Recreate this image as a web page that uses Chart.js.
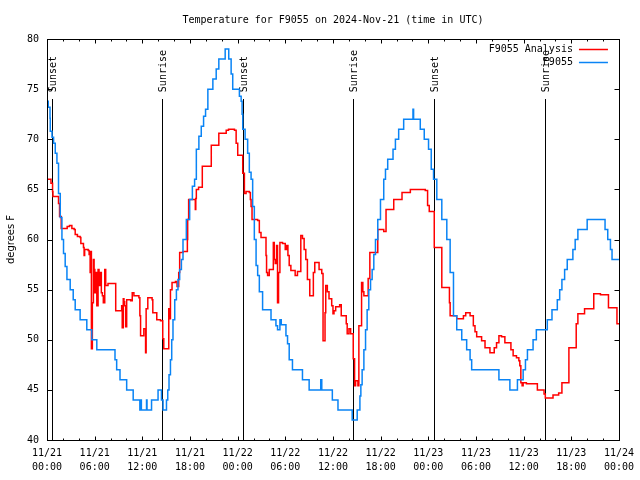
<!DOCTYPE html>
<html>
<head>
<meta charset="utf-8">
<script src="https://cdn.jsdelivr.net/npm/chart.js@4.4.1/dist/chart.umd.min.js"></script>
<style>
  body { margin: 0; background: #fff; }
</style>
</head>
<body>
<canvas id="Chart" width="640" height="480"></canvas>
<script>
// Hours since 11/21 00:00 UTC, with the temperature (F) that starts at that hour
var stationHours = [
  0, 0.16, 0.38, 0.41, 0.63, 0.83, 1.04, 1.25, 1.45, 1.67,
  1.88, 2.08, 2.29, 2.51, 2.92, 3.30, 3.55, 4.17, 5.01, 5.64,
  6.27, 8.56, 8.77, 9.19, 10.03, 10.85, 11.69, 11.82, 11.88, 12.53,
  12.59, 13.16, 13.98, 14.41, 14.61, 15.04, 15.2, 15.36, 15.54, 15.70,
  15.86, 16.08, 16.29, 16.49, 16.70, 16.92, 17.12, 17.54, 17.96, 18.30,
  18.58, 18.80, 19.12, 19.42, 19.71, 19.96, 20.25, 20.88, 21.30, 21.63,
  22.43, 22.88, 23.18, 23.38, 24.22, 24.44, 24.56, 24.64, 24.94, 25.26,
  25.47, 25.69, 25.89, 26.1, 26.32, 26.52, 26.73, 27.14, 28.2, 28.82,
  29.02, 29.32, 29.49, 30.08, 30.28, 30.49, 30.9, 32.16, 33.0, 34.46,
  34.59, 35.92, 36.63, 38.42, 39.05, 39.39, 39.51, 39.67, 39.89, 40.1,
  40.3, 40.51, 40.73, 40.93, 41.14, 41.35, 41.64, 41.98, 42.39, 42.61,
  42.89, 43.56, 43.86, 44.27, 44.9, 46.07, 46.15, 46.99, 47.49, 48.03,
  48.37, 48.66, 49.07, 49.7, 50.33, 50.75, 51.17, 51.58, 52.21, 52.83,
  53.26, 53.46, 56.89, 58.27, 59.22, 59.94, 60.23, 60.48, 61.19, 61.6,
  62.98, 63.57, 64.24, 64.54, 64.82, 65.16, 65.49, 66.2, 66.49, 66.83,
  68.0, 70.25, 70.59, 70.93, 71.13, 72
];
var stationTemps = [
  73.8, 73.2, 72.1, 70.8, 70.2, 69.6, 68.6, 67.6, 64.6, 62.2,
  60, 58.6, 57.3, 56, 55, 54, 53, 52, 51, 50,
  49, 48, 47, 46, 45, 44, 43, 44, 43, 44,
  43, 44, 45, 44, 43, 44, 45, 46.5, 48, 50,
  52, 54, 55, 56, 57, 58, 60, 62, 64, 65.3,
  66, 69, 70.3, 71.3, 72.3, 73, 75, 76, 77, 78,
  79, 78, 76.5, 75, 74.3, 73.8, 72.5, 71, 70, 68.6,
  66.7, 66, 63.3, 60, 57.4, 56.4, 54.8, 53, 52, 51.4,
  51, 52, 51.5, 50.4, 49.6, 48, 47, 46, 45, 46,
  45, 44, 43, 42, 43, 44.4, 45.5, 47, 49, 51,
  53, 55, 56, 57, 58.5, 60, 62, 64, 66, 67,
  68, 69, 70, 71, 72, 73, 72, 71, 70, 69,
  67, 66, 64, 62, 60, 56.7, 52.4, 51, 50, 49,
  48, 47, 46, 45, 46, 47, 48, 49, 50, 51,
  52, 53, 54, 55, 56, 57, 58, 59, 60, 61,
  62, 61, 60, 59, 58, 58
];

var analysisHours = [
  0, 0.5, 0.7, 0.75, 1.45, 1.58, 1.79, 2.54, 2.83, 3.13,
  3.42, 3.55, 3.83, 4.17, 4.26, 4.59, 4.67, 4.74, 5.18, 5.3,
  5.43, 5.49, 5.59, 5.71, 5.84, 5.93, 6.02, 6.14, 6.27, 6.43,
  6.55, 6.68, 6.84, 6.97, 7.09, 7.27, 7.39, 7.68, 8.65, 9.4,
  9.47, 9.6, 9.69, 9.77, 9.9, 10.03, 10.53, 10.73, 10.94, 11.57,
  11.69, 11.78, 12.19, 12.41, 12.48, 12.69, 13.23, 13.32, 13.82, 14.29,
  14.57, 14.7, 15.33, 15.45, 15.54, 15.74, 16.17, 16.37, 16.58, 16.7,
  17.12, 17.67, 17.71, 17.83, 18.67, 18.73, 18.8, 19.08, 19.55, 20.68,
  21.63, 22.56, 22.85, 23.6, 23.81, 24.01, 24.64, 24.85, 25.06, 25.47,
  25.6, 25.69, 25.81, 26.52, 26.73, 26.94, 27.57, 27.64, 27.77, 27.98,
  28.49, 28.61, 28.73, 28.9, 29.02, 29.15, 29.32, 29.65, 29.99, 30.15,
  30.33, 30.49, 30.7, 31.24, 31.53, 31.95, 32.16, 32.37, 32.58, 32.78,
  33.08, 33.53, 33.71, 34.25, 34.59, 34.75, 35.0, 35.09, 35.29, 35.5,
  35.84, 36.0, 36.13, 36.34, 36.84, 37.04, 37.67, 37.79, 38.01, 38.22,
  38.55, 38.72, 38.85, 39.14, 39.26, 39.6, 39.76, 39.89, 40.43, 40.64,
  41.64, 42.39, 42.68, 43.65, 44.69, 45.74, 47.62, 47.91, 48.12, 48.75,
  49.7, 50.66, 50.75, 51.58, 52.42, 52.71, 53.26, 53.67, 53.88, 54.09,
  54.71, 55.14, 55.76, 56.3, 56.59, 56.89, 57.22, 57.64, 58.4, 58.68,
  59.1, 59.4, 59.52, 59.65, 59.81, 59.94, 60.35, 61.73, 62.57, 62.73,
  63.7, 64.41, 64.82, 65.7, 66.62, 66.83, 67.67, 68.83, 69.67, 70.68,
  71.75, 72
];
var analysisTemps = [
  66, 65.6, 64.8, 64.3, 63.6, 62.3, 61.1, 61.3, 61.4, 61.1,
  61, 60.5, 60.3, 60.2, 59.6, 59.2, 58.4, 59, 58.9, 58.5,
  56.7, 58.8, 49.1, 53.7, 58, 57, 54.7, 56.7, 53.4, 57,
  55.4, 56.7, 54.7, 54.4, 53.7, 57, 55.4, 55.6, 52.9, 53.4,
  51.2, 54.1, 53.8, 53.4, 51.3, 54, 53.9, 54.7, 54.4, 54.2,
  52.4, 50.4, 51.1, 48.7, 53.1, 54.2, 54, 52.7, 52, 51.9,
  50.1, 49.1, 53.1, 52.1, 55, 55.7, 55.8, 55.3, 56.7, 58.7,
  58.8, 60, 62, 64, 63, 64.1, 65, 65.2, 67.3, 69.4,
  70.6, 70.9, 71, 70.9, 69.6, 68.4, 66.6, 64.6, 64.8, 64.7,
  64, 63.3, 62, 61.9, 60.7, 60.2, 58.4, 56.7, 56.4, 57,
  59.7, 58, 57.6, 59.4, 53.7, 56.7, 59.7, 59.6, 59, 59.4,
  58.4, 57.4, 56.9, 56.4, 56.8, 60.4, 60.1, 59, 58, 56,
  54.4, 56.7, 57.7, 57, 56.6, 49.9, 52.7, 55.4, 54.8, 54.1,
  53.4, 52.6, 52.9, 53.3, 53.5, 52.4, 51.6, 50.6, 51.1, 50.6,
  48.1, 45.4, 45.9, 45.4, 51.4, 55.7, 54.8, 54.4, 56.1, 58.7,
  61, 60.8, 63, 64, 64.7, 65, 64.9, 63.4, 62.8, 59.2,
  55.2, 53.7, 52.4, 52.1, 52.4, 52.7, 52.4, 51.4, 50.8, 50.3,
  49.9, 49.2, 48.7, 49.2, 49.7, 50.4, 50.3, 49.7, 49, 48.4,
  48.2, 47.9, 47.4, 45.7, 45.4, 45.7, 45.6, 45, 44.6, 44.2,
  44.5, 44.7, 45.7, 49.2, 51.6, 52.6, 53.1, 54.6, 54.5, 53.2,
  51.6, 51.6
];

// Sunrise / sunset markers
var eventHours = [0.58, 14.49, 24.64, 38.55, 48.70, 62.66];
var eventLabels = ['Sunset', 'Sunrise', 'Sunset', 'Sunrise', 'Sunset', 'Sunrise'];

// x tick labels, one per 6 hours
var tickDates = ['11/21', '11/21', '11/21', '11/21', '11/22', '11/22', '11/22', '11/22', '11/23', '11/23', '11/23', '11/23', '11/24'];
var tickTimes = ['00:00', '06:00', '12:00', '18:00', '00:00', '06:00', '12:00', '18:00', '00:00', '06:00', '12:00', '18:00', '00:00'];

var MONO = "'DejaVu Sans Mono', 'Liberation Mono', monospace";

function toPoints(xs, ys) {
  return xs.map(function (x, i) { return { x: x, y: ys[i] }; });
}

function crisp(v) { return Math.round(v) + 0.5; }

// ----------------------------------- gnuplot look -------------------------------------------
var gnuplotFrame = {
  id: 'gnuplotFrame',
  beforeDatasetsDraw: function (chart) {
    var ctx = chart.ctx, xs = chart.scales.x, ys = chart.scales.y;
    var top = ys.getPixelForValue(74), bottom = chart.chartArea.bottom;
    ctx.save();
    ctx.strokeStyle = '#000';
    ctx.lineWidth = 1;
    ctx.fillStyle = '#000';
    ctx.font = '10px ' + MONO;
    eventHours.forEach(function (h, i) {
      var px = crisp(xs.getPixelForValue(h));
      ctx.beginPath();
      ctx.moveTo(px, Math.round(top));
      ctx.lineTo(px, bottom);
      ctx.stroke();
      ctx.save();
      ctx.translate(px + 1, top - 7);
      ctx.rotate(-Math.PI / 2);
      ctx.textAlign = 'left';
      ctx.textBaseline = 'middle';
      ctx.fillText(eventLabels[i], 0, 0);
      ctx.restore();
    });
    ctx.restore();
  },
  afterDatasetsDraw: function (chart) {
    var ctx = chart.ctx, a = chart.chartArea, xs = chart.scales.x, ys = chart.scales.y;
    ctx.save();
    ctx.strokeStyle = '#000';
    ctx.lineWidth = 1;
    var L = crisp(a.left), R = crisp(a.right), T = crisp(a.top), B = crisp(a.bottom);
    ctx.strokeRect(L, T, R - L, B - T);

    ctx.beginPath();
    // minor x ticks every 2 hours, major every 6
    for (var h = xs.min; h <= xs.max; h += 2) {
      var px = crisp(xs.getPixelForValue(h));
      var len = (h % 6 === 0) ? 4 : 2;
      ctx.moveTo(px, B); ctx.lineTo(px, B - len);
      ctx.moveTo(px, T); ctx.lineTo(px, T + len);
    }
    ys.ticks.forEach(function (t) {
      var py = crisp(ys.getPixelForValue(t.value));
      ctx.moveTo(L, py); ctx.lineTo(L + 5, py);
      ctx.moveTo(R, py); ctx.lineTo(R - 5, py);
    });
    ctx.stroke();

    // key, top right
    ctx.font = '10px ' + MONO;
    ctx.fillStyle = '#000';
    ctx.textAlign = 'right';
    ctx.textBaseline = 'middle';
    chart.data.datasets.forEach(function (ds, i) {
      var y = a.top + 10 + i * 13;
      ctx.fillText(ds.label, a.right - 46, y);
      ctx.strokeStyle = ds.borderColor;
      ctx.lineWidth = 1.5;
      ctx.beginPath();
      ctx.moveTo(a.right - 40, crisp(y));
      ctx.lineTo(a.right - 11, crisp(y));
      ctx.stroke();
    });
    ctx.restore();
  }
};

var chart = document.getElementById("Chart");
var myChart = new Chart(chart, {
  type: 'line',
  data: {
    datasets: [
      {
        label: 'F9055 Analysis',
        data: toPoints(analysisHours, analysisTemps),
        borderColor: '#ff0000',
        borderWidth: 1.5,
        stepped: true,
        pointRadius: 0,
        order: 1
      }, {
        label: 'F9055',
        data: toPoints(stationHours, stationTemps),
        borderColor: '#0a84f5',
        borderWidth: 1.5,
        stepped: true,
        pointRadius: 0,
        order: 0
      }
    ]
  },
  options: {
    responsive: false,
    devicePixelRatio: 1,
    animation: false,
    layout: { padding: { left: 0, right: 19, top: 0, bottom: 0 } },
    plugins: {
      legend: { display: false },
      tooltip: { enabled: false },
      title: {
        display: true,
        text: 'Temperature for F9055 on 2024-Nov-21 (time in UTC)',
        color: '#000',
        fullSize: false,
        font: { family: MONO, size: 10, weight: 'normal' },
        padding: { top: 14, bottom: 13 }
      }
    },
    scales: {
      x: {
        type: 'linear',
        min: 0,
        max: 72,
        afterFit: function (s) { s.height = 40; },
        grid: { display: false, drawTicks: false },
        border: { display: false },
        ticks: {
          stepSize: 6,
          autoSkip: false,
          maxRotation: 0,
          padding: 6,
          color: '#000',
          font: { family: MONO, size: 10, lineHeight: 1.4 },
          callback: function (v) {
            var i = Math.round(v / 6);
            return [tickDates[i], tickTimes[i]];
          }
        }
      },
      y: {
        min: 40,
        max: 80,
        afterFit: function (s) { s.width = 47; },
        grid: { display: false, drawTicks: false },
        border: { display: false },
        ticks: {
          stepSize: 5,
          padding: 8,
          color: '#000',
          font: { family: MONO, size: 10 }
        },
        title: {
          display: true,
          text: 'degrees F',
          color: '#000',
          font: { family: "'DejaVu Sans', sans-serif", size: 10 },
          padding: { top: 5, bottom: 0 }
        }
      }
    }
  },
  plugins: [gnuplotFrame]
});
</script>
</body>
</html>
